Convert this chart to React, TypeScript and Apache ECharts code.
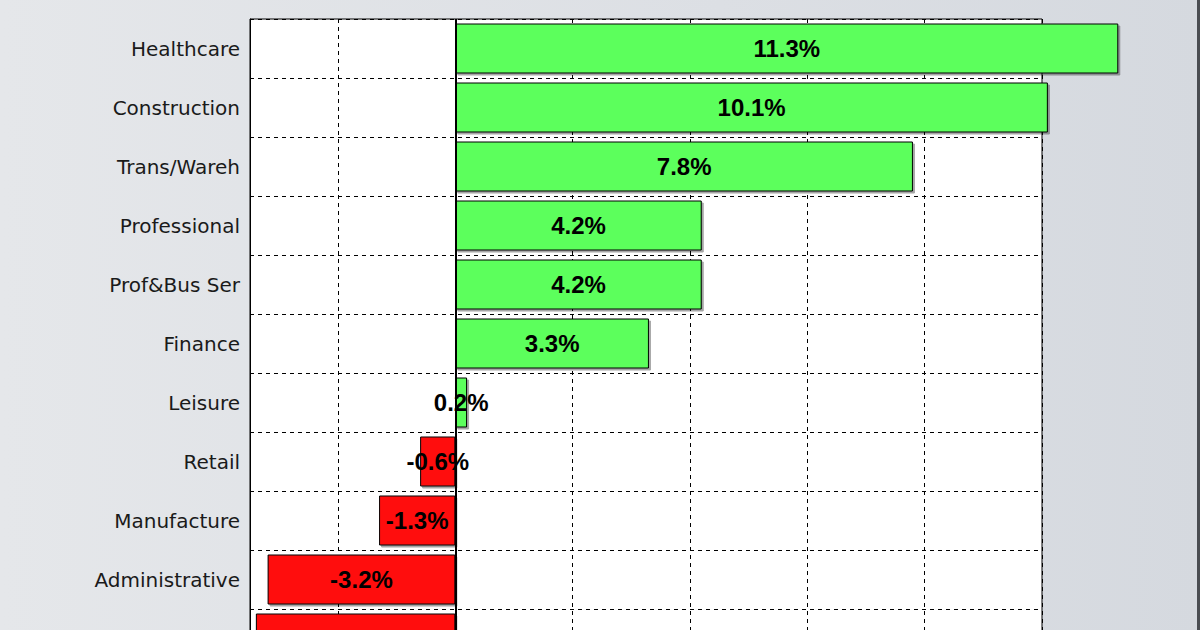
import React, { useEffect, useRef } from "react";
import * as echarts from "echarts";

const categories = [
  "Healthcare",
  "Construction",
  "Trans/Wareh",
  "Professional",
  "Prof&Bus Ser",
  "Finance",
  "Leisure",
  "Retail",
  "Manufacture",
  "Administrative",
  "Information",
];
const values = [11.3, 10.1, 7.8, 4.2, 4.2, 3.3, 0.2, -0.6, -1.3, -3.2, -3.4];
const gridTicks = [-2, 0, 2, 4, 6, 8, 10];
const visibleCount = 10;

export default function App() {
  const ref = useRef<HTMLDivElement>(null);
  useEffect(() => {
    if (!ref.current) return;
    const chart = echarts.init(ref.current, null, { renderer: "svg" });
    chart.setOption({
      animation: false,
      backgroundColor: "transparent",
      grid: {
        left: 250,
        right: 158,
        top: 19,
        bottom: 32,
        show: true,
        borderColor: "#000",
        borderWidth: 1,
        backgroundColor: "#fff",
        containLabel: false,
      },
      xAxis: {
        type: "value",
        min: -3.5,
        max: 10,
        axisLine: { show: false },
        axisLabel: { show: false, customValues: gridTicks },
        axisTick: { show: false, customValues: gridTicks },
        splitLine: {
          show: true,
          lineStyle: { color: "#000", type: [4, 4], width: 1 },
        },
      },
      yAxis: {
        type: "category",
        data: categories,
        inverse: true,
        axisLine: { show: true, onZero: false, lineStyle: { color: "#000" } },
        axisTick: { show: false },
        axisLabel: {
          color: "#1a1a1a",
          fontFamily: "DejaVu Sans",
          fontSize: 20,
          margin: 10,
          interval: (index: number) => index < visibleCount,
        },
        splitLine: {
          show: true,
          interval: 0,
          lineStyle: { color: "#000", type: [4, 4], width: 1 },
        },
      },
      series: [
        {
          type: "bar",
          data: values.map((v, i) =>
            i < visibleCount ? v : { value: v, label: { show: false } }
          ),
          barWidth: 50,
          clip: false,
          itemStyle: {
            color: (p: any) => (p.value >= 0 ? "#5BFF5B" : "#FF1111"),
            borderColor: "#000",
            borderWidth: 1,
            shadowColor: "rgba(0,0,0,0.35)",
            shadowOffsetX: 2,
            shadowOffsetY: 2,
            shadowBlur: 0,
          },
          label: {
            show: true,
            position: "inside",
            formatter: (p: any) => Number(p.value).toFixed(1) + "%",
            color: "#000",
            fontFamily: "Liberation Sans",
            fontWeight: "bold",
            fontSize: 24,
          },
          markLine: {
            silent: true,
            symbol: "none",
            label: { show: false },
            lineStyle: { color: "#000", type: "solid", width: 2 },
            data: [{ xAxis: 0 }],
          },
        },
      ],
      graphic: [
        {
          type: "rect",
          shape: { x: 1197, y: 0, width: 3, height: 700 },
          style: { fill: "#4a4d52" },
        },
      ],
    });
    return () => chart.dispose();
  }, []);
  return (
    <div
      style={{
        position: "fixed",
        left: 0,
        top: 0,
        width: 1200,
        height: 700,
        background: "linear-gradient(to right, #e5e7ea 0%, #dcdfe4 60%, #d5d9df 100%)",
      }}
    >
      <div ref={ref} style={{ width: 1200, height: 700 }} />
    </div>
  );
}
